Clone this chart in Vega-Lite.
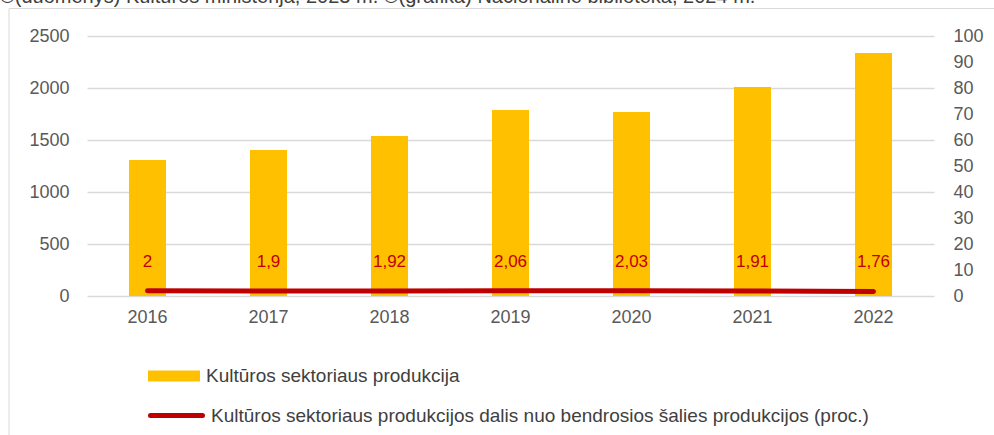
{
  "$schema": "https://vega.github.io/schema/vega-lite/v6.json",
  "autosize": "none",
  "width": 847,
  "height": 260,
  "padding": {"left": 87, "top": 36, "right": 60, "bottom": 139},
  "background": "white",
  "config": {
    "view": {"stroke": null},
    "locale": {"number": {"decimal": ",", "thousands": "", "grouping": [3], "currency": ["", " €"]}},
    "font": "Liberation Sans"
  },
  "title": {
    "text": "©(duomenys) Kultūros ministerija, 2023 m.   ©(grafika) Nacionalinė biblioteka, 2024 m.",
    "anchor": "start",
    "frame": "group",
    "orient": "top",
    "dx": -87,
    "dy": 22,
    "offset": 7,
    "baseline": "alphabetic",
    "font": "Liberation Sans",
    "fontSize": 20,
    "fontWeight": "normal",
    "color": "#404040"
  },
  "data": {
    "values": [
      {"year": "2016", "production": 1308, "share": 2},
      {"year": "2017", "production": 1404, "share": 1.9},
      {"year": "2018", "production": 1538, "share": 1.92},
      {"year": "2019", "production": 1788, "share": 2.06},
      {"year": "2020", "production": 1769, "share": 2.03},
      {"year": "2021", "production": 2010, "share": 1.91},
      {"year": "2022", "production": 2337, "share": 1.76}
    ]
  },
  "encoding": {
    "x": {
      "field": "year",
      "type": "nominal",
      "scale": {"paddingInner": 0, "paddingOuter": 0},
      "axis": {
        "title": null,
        "labelAngle": 0,
        "domain": false,
        "ticks": false,
        "labelPadding": 12,
        "labelFont": "Liberation Sans",
        "labelFontSize": 18,
        "labelColor": "#595959"
      }
    }
  },
  "layer": [
    {
      "mark": {"type": "bar", "width": {"band": 0.306}},
      "encoding": {
        "y": {
          "field": "production",
          "type": "quantitative",
          "scale": {"domain": [0, 2500], "nice": false},
          "axis": {
            "orient": "left",
            "title": null,
            "values": [0, 500, 1000, 1500, 2000, 2500],
            "domain": false,
            "ticks": false,
            "grid": true,
            "gridColor": "#D9D9D9",
            "gridWidth": 1.3,
            "labelPadding": 18,
            "labelFont": "Liberation Sans",
            "labelFontSize": 18,
            "labelColor": "#595959"
          }
        },
        "fill": {
          "datum": "Kultūros sektoriaus produkcija",
          "scale": {"range": ["#FFC000"]},
          "legend": {
            "title": null,
            "orient": "none",
            "legendX": 61,
            "legendY": 314,
            "padding": 0,
            "symbolType": "M-1,-0.21H1V0.21H-1Z",
            "symbolSize": 2704,
            "symbolStrokeWidth": 0,
            "labelOffset": 6,
            "labelFont": "Liberation Sans",
            "labelFontSize": 19,
            "labelColor": "#404040",
            "labelLimit": 900
          }
        },
        "strokeDash": {
          "datum": "frame",
          "scale": {"range": [[1, 0]]},
          "legend": {
            "title": null,
            "orient": "none",
            "legendX": -78.5,
            "legendY": -28,
            "padding": 700,
            "strokeColor": "#D9D9D9",
            "symbolOpacity": 0,
            "labelOpacity": 0
          }
        }
      }
    },
    {
      "encoding": {
        "y": {
          "field": "share",
          "type": "quantitative",
          "scale": {"domain": [0, 100], "nice": false},
          "axis": {
            "orient": "right",
            "title": null,
            "values": [0, 10, 20, 30, 40, 50, 60, 70, 80, 90, 100],
            "domain": false,
            "ticks": false,
            "grid": false,
            "labelPadding": 19,
            "labelFont": "Liberation Sans",
            "labelFontSize": 18,
            "labelColor": "#595959"
          }
        }
      },
      "layer": [
        {
          "mark": {"type": "line", "strokeWidth": 5, "strokeCap": "round", "strokeJoin": "round"},
          "encoding": {
            "stroke": {
              "datum": "Kultūros sektoriaus produkcijos dalis nuo bendrosios šalies produkcijos (proc.)",
              "scale": {"range": ["#C00000"]},
              "legend": {
                "title": null,
                "orient": "none",
                "legendX": 61,
                "legendY": 351,
                "padding": 0,
                "symbolType": "stroke",
                "symbolSize": 2704,
                "symbolStrokeWidth": 5,
                "labelOffset": 6,
                "labelFont": "Liberation Sans",
                "labelFontSize": 19,
                "labelColor": "#404040",
                "labelLimit": 900,
                "encode": {"symbols": {"update": {"strokeCap": {"value": "round"}}}}
              }
            }
          }
        },
        {
          "mark": {"type": "text", "dy": -29, "baseline": "middle", "align": "center", "font": "Liberation Sans", "fontSize": 17, "color": "#C00000"},
          "encoding": {
            "text": {"field": "share", "type": "quantitative", "format": ".3~g"}
          }
        }
      ]
    }
  ],
  "resolve": {"scale": {"y": "independent"}}
}
